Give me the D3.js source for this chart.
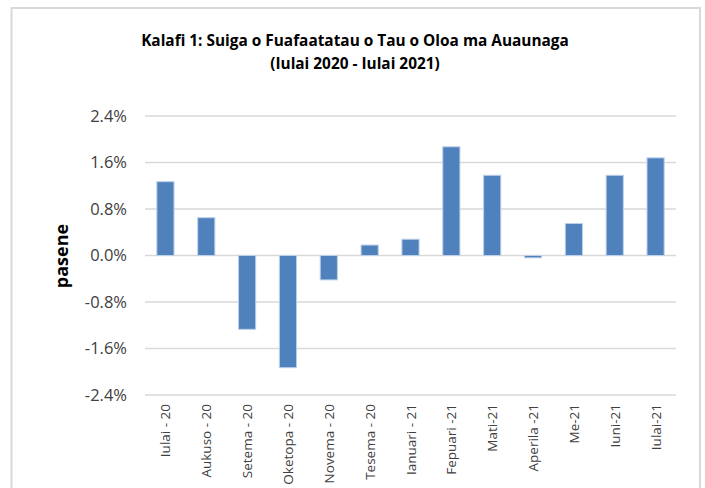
<!DOCTYPE html>
<html>
<head>
<meta charset="UTF-8">
<title>Kalafi 1</title>
<script src="https://cdn.jsdelivr.net/npm/d3@7"></script>
<style>
  body { margin: 0; background: #fff; }
  text { font-family: "Open Sans", "Liberation Sans", sans-serif; }
</style>
</head>
<body>
<div id="chart"></div>
<script>
// months and percentage change
const months = ["Iulai - 20", "Aukuso - 20", "Setema - 20", "Oketopa - 20", "Novema - 20",
  "Tesema - 20", "Ianuari - 21", "Fepuari -21", "Mati-21", "Aperila -21", "Me-21", "Iuni-21", "Iulai-21"];
const values = [1.27, 0.65, -1.27, -1.93, -0.42, 0.18, 0.28, 1.87, 1.38, -0.04, 0.55, 1.38, 1.68];
const yTicks = [-2.4, -1.6, -0.8, 0, 0.8, 1.6, 2.4];

const width = 705, height = 488;
const margin = {left: 145, right: 29, top: 116, bottom: 93};

const svg = d3.select("#chart").append("svg")
    .attr("width", width)
    .attr("height", height);

// outer frame
svg.append("rect")
    .attr("x", 11.5).attr("y", 8)
    .attr("width", 688.5).attr("height", 500)
    .attr("fill", "none")
    .attr("stroke", "#d9d9d9")
    .attr("stroke-width", 2);

const x = d3.scaleBand()
    .domain(months)
    .range([margin.left, width - margin.right])
    .paddingInner(0.58)
    .paddingOuter(0.29);

const y = d3.scaleLinear()
    .domain([-2.4, 2.4])
    .range([height - margin.bottom, margin.top]);

// gridlines
svg.append("g")
    .selectAll("line")
    .data(yTicks)
    .join("line")
    .attr("x1", margin.left)
    .attr("x2", width - margin.right)
    .attr("y1", d => y(d))
    .attr("y2", d => y(d))
    .attr("stroke", "#d9d9d9")
    .attr("stroke-width", 1.5);

// y axis labels (plain hyphen for negatives)
const yAxis = d3.axisLeft(y)
    .tickValues(yTicks)
    .tickSize(0)
    .tickPadding(18)
    .tickFormat(d => d.toFixed(1) + "%");

svg.append("g")
    .attr("transform", "translate(" + margin.left + ",0)")
    .call(yAxis)
    .call(g => g.select(".domain").remove())
    .selectAll("text")
    .attr("font-size", 16.5)
    .attr("fill", "#404040");

// bars
svg.append("g")
    .selectAll("rect")
    .data(values)
    .join("rect")
    .attr("x", (d, i) => x(months[i]))
    .attr("width", x.bandwidth())
    .attr("y", d => y(Math.max(0, d)))
    .attr("height", d => Math.abs(y(d) - y(0)))
    .attr("fill", "#4f81bd")
    .attr("stroke", "#bcd0e8")
    .attr("stroke-width", 1);

// x labels, rotated
svg.append("g")
    .selectAll("text")
    .data(months)
    .join("text")
    .attr("transform", d => "translate(" + (x(d) + x.bandwidth() / 2 + 5) + "," + 404 + ") rotate(-90)")
    .attr("text-anchor", "end")
    .attr("font-size", 13.5)
    .attr("fill", "#404040")
    .text(d => d);

// y title
svg.append("text")
    .attr("transform", "translate(68,256) rotate(-90)")
    .attr("text-anchor", "middle")
    .attr("font-size", 18)
    .attr("font-weight", "bold")
    .attr("fill", "#000")
    .text("pasene");

// chart title
svg.append("text")
    .attr("x", 355).attr("y", 46)
    .attr("text-anchor", "middle")
    .attr("font-size", 15.4)
    .attr("font-weight", "bold")
    .attr("fill", "#000")
    .text("Kalafi 1: Suiga o Fuafaatatau o Tau o Oloa ma Auaunaga");

svg.append("text")
    .attr("x", 355).attr("y", 69)
    .attr("text-anchor", "middle")
    .attr("font-size", 15.4)
    .attr("font-weight", "bold")
    .attr("fill", "#000")
    .text("(Iulai 2020 - Iulai 2021)");
</script>
</body>
</html>
